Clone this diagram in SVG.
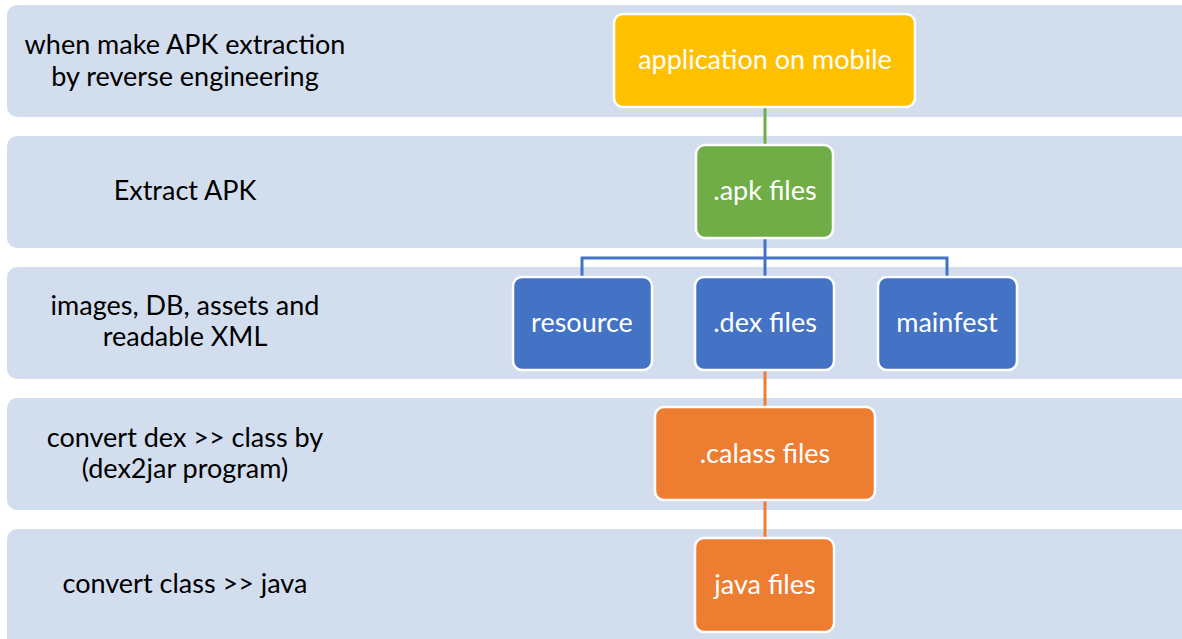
<svg xmlns="http://www.w3.org/2000/svg" width="1182" height="639" viewBox="0 0 1182 639">
<style>
.band{fill:#D2DDEE}
.lbl{font-family:Lato,"Liberation Sans",sans-serif;font-size:27px;fill:#000;text-anchor:middle}
.ntx{font-family:Lato,"Liberation Sans",sans-serif;font-size:27px;fill:#fff;text-anchor:middle}
.node{stroke:#fff;stroke-width:2.5}
.c{fill:none;stroke-width:3}
</style>
<rect width="1182" height="639" fill="#fff"/>
<g id="bands">
<rect class="band" x="7" y="5" width="1200" height="112" rx="10"/>
<rect class="band" x="7" y="136" width="1200" height="112" rx="10"/>
<rect class="band" x="7" y="267" width="1200" height="112" rx="10"/>
<rect class="band" x="7" y="398" width="1200" height="112" rx="10"/>
<rect class="band" x="7" y="529" width="1200" height="120" rx="10"/>
</g>
<g id="labels">
<text class="lbl" x="185" y="54">when make APK extraction</text>
<text class="lbl" x="185" y="86">by reverse engineering</text>
<text class="lbl" x="185" y="200">Extract APK</text>
<text class="lbl" x="185" y="315">images, DB, assets and</text>
<text class="lbl" x="185" y="346">readable XML</text>
<text class="lbl" x="185" y="447">convert dex &gt;&gt; class by</text>
<text class="lbl" x="185" y="478">(dex2jar program)</text>
<text class="lbl" x="185" y="593">convert class &gt;&gt; java</text>
</g>
<g id="connectors">
<line class="c" x1="765" y1="107" x2="765" y2="146" stroke="#70AD47"/>
<path class="c" d="M765 238 V258 M582 276 V258 H947 V276 M765 258 V276" stroke="#4472C4"/>
<line class="c" x1="765" y1="370" x2="765" y2="407" stroke="#ED7D31"/>
<line class="c" x1="765" y1="500" x2="765" y2="538" stroke="#ED7D31"/>
</g>
<g id="n-app">
<rect class="node" x="614" y="14" width="301" height="93" rx="9" fill="#FFC000"/>
<text class="ntx" x="765" y="69">application on mobile</text>
</g>
<g id="n-apk">
<rect class="node" x="696" y="145" width="137" height="93" rx="9" fill="#70AD47"/>
<text class="ntx" x="765" y="200">.apk files</text>
</g>
<g id="n-resource">
<rect class="node" x="513" y="277" width="139" height="93" rx="9" fill="#4472C4"/>
<text class="ntx" x="582" y="332">resource</text>
</g>
<g id="n-dex">
<rect class="node" x="695" y="277" width="139" height="93" rx="9" fill="#4472C4"/>
<text class="ntx" x="765" y="332">.dex files</text>
</g>
<g id="n-mainfest">
<rect class="node" x="878" y="277" width="139" height="93" rx="9" fill="#4472C4"/>
<text class="ntx" x="947" y="332">mainfest</text>
</g>
<g id="n-class">
<rect class="node" x="655" y="407" width="220" height="93" rx="9" fill="#ED7D31"/>
<text class="ntx" x="765" y="463">.calass files</text>
</g>
<g id="n-java">
<rect class="node" x="695" y="538" width="139" height="94" rx="9" fill="#ED7D31"/>
<text class="ntx" x="765" y="594">java files</text>
</g>
</svg>
